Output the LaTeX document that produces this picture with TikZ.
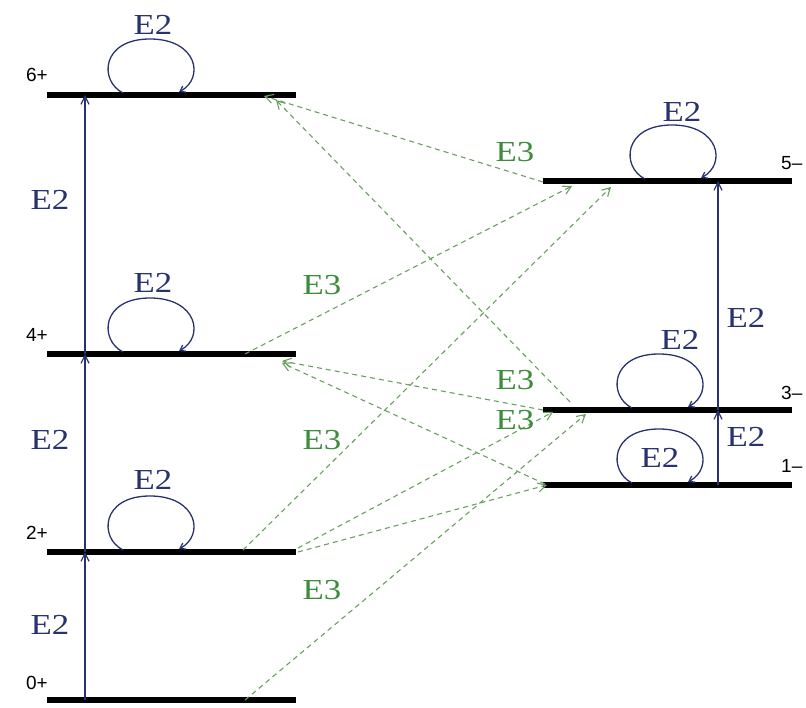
\documentclass[tikz,border=0pt]{standalone}
\usepackage{fontspec}
\setmainfont{Liberation Serif}[FakeStretch=1.2]
\newfontfamily\lblfont{Liberation Sans}
\usetikzlibrary{arrows.meta}
\definecolor{navy}{RGB}{40,50,110}
\definecolor{egreen}{RGB}{60,140,60}
\definecolor{dgreen}{RGB}{105,160,95}
\begin{document}
\begin{tikzpicture}[x=1pt,y=-1pt,
  levelline/.style={line width=6.5pt,black},
  trans/.style={navy,line width=1.2pt,-{Straight Barb[length=8pt,width=8pt]}},
  eth/.style={dgreen,line width=1.1pt,dash pattern=on 5pt off 4pt,-{Straight Barb[length=8pt,width=9pt]}},
  etwo/.style={navy,font=\fontsize{29}{29}\selectfont,inner sep=0pt},
  ethree/.style={egreen,font=\fontsize{29}{29}\selectfont,inner sep=0pt},
  spin/.style={font=\lblfont\fontsize{19}{19}\selectfont,inner sep=0pt},
  eloop/.pic={\draw[navy,line width=1.3pt,-{Straight Barb[length=5pt,width=7pt]}]
     (0,0) .. controls (-24,-12) and (-22,-54) .. (27,-54)
           .. controls (74,-54) and (82,-15) .. (56,-1);}
]
\useasboundingbox (0,0) rectangle (806,708);

% levels
\coordinate (L6a) at (47,95);  \coordinate (L6b) at (296,95);
\coordinate (L4a) at (47,354); \coordinate (L4b) at (296,354);
\coordinate (L2a) at (47,552); \coordinate (L2b) at (296,552);
\coordinate (L0a) at (47,700); \coordinate (L0b) at (296,700);
\coordinate (R5a) at (543,181); \coordinate (R5b) at (792,181);
\coordinate (R3a) at (543,410); \coordinate (R3b) at (792,410);
\coordinate (R1a) at (543,485); \coordinate (R1b) at (792,485);
\foreach \a/\b in {L6a/L6b,L4a/L4b,L2a/L2b,L0a/L0b,R5a/R5b,R3a/R3b,R1a/R1b}
  \draw[levelline] (\a) -- (\b);

% spin labels
\node[spin] (s6) at (37,75) {6+};
\node[spin] (s4) at (37,335) {4+};
\node[spin] (s2) at (37,533) {2+};
\node[spin] (s0) at (37,683) {0+};
\node[spin,anchor=west] (s5) at (781,163) {5–};
\node[spin,anchor=west] (s3) at (781,393) {3–};
\node[spin,anchor=west] (s1) at (781,466) {1–};

% vertical E2 transitions
\coordinate (v0) at (85,700); \coordinate (v2) at (85,552);
\coordinate (v4) at (85,354); \coordinate (v6) at (85,95);
\coordinate (w1) at (718,485); \coordinate (w3) at (718,410); \coordinate (w5) at (718,181);
\draw[trans] (v0) -- (v2);
\draw[trans] (v2) -- (v4);
\draw[trans] (v4) -- (v6);
\draw[trans] (w1) -- (w3);
\draw[trans] (w3) -- (w5);
\node[etwo] (t02) at (50,625) {E2};
\node[etwo] (t24) at (50,440) {E2};
\node[etwo] (t46) at (50,200) {E2};
\node[etwo] (t13) at (746,437) {E2};
\node[etwo] (t35) at (746,318) {E2};

% self loops
\pic at (123,93) {eloop};
\pic at (123,352) {eloop};
\pic at (123,550) {eloop};
\pic at (645,179) {eloop};
\pic at (632,408) {eloop};
\pic at (632,483) {eloop};
\node[etwo] (l6) at (153,25) {E2};
\node[etwo] (l4) at (153,283) {E2};
\node[etwo] (l2) at (153,480) {E2};
\node[etwo] (l5) at (682,112) {E2};
\node[etwo] (l3) at (680,340) {E2};
\node[etwo] (l1) at (660,458) {E2};

% E3 transitions
\coordinate (a56) at (543,182); \coordinate (b56) at (264,96);
\coordinate (a36) at (570,402); \coordinate (b36) at (276,100);
\coordinate (a45) at (245,354); \coordinate (b45) at (572,186);
\coordinate (a25) at (243,550); \coordinate (b25) at (611,187);
\coordinate (a34) at (543,410); \coordinate (b34) at (282,361);
\coordinate (a14) at (545,484); \coordinate (b14) at (282,363);
\coordinate (a23) at (298,548); \coordinate (b23) at (553,412);
\coordinate (a21) at (298,552); \coordinate (b21) at (547,485);
\coordinate (a03) at (245,700); \coordinate (b03) at (586,414);
\draw[eth] (a56) -- (b56);
\draw[eth] (a36) -- (b36);
\draw[eth] (a45) -- (b45);
\draw[eth] (a25) -- (b25);
\draw[eth] (a34) -- (b34);
\draw[eth] (a14) -- (b14);
\draw[eth] (a23) -- (b23);
\draw[eth] (a21) -- (b21);
\draw[eth] (a03) -- (b03);
\node[ethree] (e1) at (515,152) {E3};
\node[ethree] (e2) at (322,285) {E3};
\node[ethree] (e3) at (515,380) {E3};
\node[ethree] (e4) at (322,440) {E3};
\node[ethree] (e5) at (515,420) {E3};
\node[ethree] (e6) at (322,590) {E3};
\end{tikzpicture}
\end{document}
